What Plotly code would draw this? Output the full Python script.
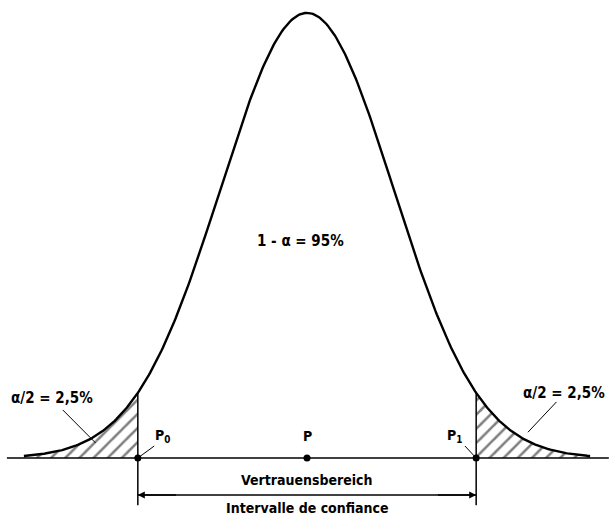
import numpy as np
import plotly.graph_objects as go

# diagram parameters (standard normal, two-sided 95 % interval)
mean = 0.0
sigma = 1.0
alpha = 0.05
z_crit = 1.96
x_limits = [-3.557, 3.557]
tail_ends = [-3.28, 3.28]

point_names = ["P<sub>0</sub>", "P", "P<sub>1</sub>"]
point_pos = [mean - z_crit * sigma, mean, mean + z_crit * sigma]

label_center = "1 - α = 95%"
label_tail = "α/2 = 2,5%"
label_de = "Vertrauensbereich"
label_fr = "Intervalle de confiance"


def density(x):
    # scaled so the peak is 1
    return np.exp(-0.5 * ((x - mean) / sigma) ** 2)


FONT = dict(family="DejaVu Sans Condensed", size=14, color="black", weight="bold")

x_curve = np.linspace(tail_ends[0], tail_ends[1], 400)
x_left = np.linspace(tail_ends[0], point_pos[0], 120)
x_right = np.linspace(point_pos[2], tail_ends[1], 120)

fig = go.Figure()

hatch = dict(shape="/", fgcolor="black", bgcolor="white", size=10, solidity=0.25)
for xs in (x_left, x_right):
    fig.add_trace(go.Scatter(x=xs, y=density(xs), mode="lines", line=dict(width=0),
                             fill="tozeroy", fillpattern=hatch, fillcolor="white",
                             hoverinfo="skip"))

fig.add_trace(go.Scatter(x=x_curve, y=density(x_curve), mode="lines",
                         line=dict(color="black", width=2.4), hoverinfo="skip"))

# baseline
fig.add_shape(type="line", x0=x_limits[0] + 0.08, x1=x_limits[1] - 0.06, y0=0, y1=0,
              line=dict(color="black", width=1.6))

# boundaries of the interval
for p in (point_pos[0], point_pos[2]):
    fig.add_shape(type="line", x0=p, x1=p, y0=-0.106, y1=density(p),
                  line=dict(color="black", width=1.5))

fig.add_trace(go.Scatter(x=point_pos, y=[0, 0, 0], mode="markers",
                         marker=dict(color="black", size=7), hoverinfo="skip"))

# point labels and leaders
fig.add_annotation(x=-1.68, y=0.05, text=point_names[0], showarrow=False, font=FONT)
fig.add_annotation(x=0.0, y=0.05, text=point_names[1], showarrow=False, font=FONT)
fig.add_annotation(x=1.71, y=0.05, text=point_names[2], showarrow=False, font=FONT)
fig.add_shape(type="line", x0=-1.77, y0=0.027, x1=point_pos[0], y1=0,
              line=dict(color="black", width=1))
fig.add_shape(type="line", x0=1.83, y0=0.027, x1=point_pos[2], y1=0,
              line=dict(color="black", width=1))

# tail labels with leaders
fig.add_annotation(x=-2.95, y=0.135, text=label_tail, showarrow=False,
                   font=dict(FONT, size=15))
fig.add_annotation(x=2.98, y=0.146, text=label_tail, showarrow=False,
                   font=dict(FONT, size=15))
fig.add_shape(type="line", x0=-2.83, y0=0.108, x1=-2.45, y1=0.034,
              line=dict(color="black", width=1))
fig.add_shape(type="line", x0=2.89, y0=0.126, x1=2.56, y1=0.058,
              line=dict(color="black", width=1))

fig.add_annotation(x=-0.08, y=0.488, text=label_center, showarrow=False,
                   font=dict(FONT, size=15))

# confidence interval dimension line
fig.add_shape(type="line", x0=point_pos[0], x1=point_pos[2], y0=-0.083, y1=-0.083,
              line=dict(color="black", width=1.4))
for end, start in ((point_pos[0], -1.5), (point_pos[2], 1.5)):
    fig.add_annotation(x=end, y=-0.083, ax=start, ay=-0.083, axref="x", ayref="y",
                       text="", showarrow=True, arrowhead=2, arrowsize=1, arrowwidth=1.4,
                       arrowcolor="black")
fig.add_annotation(x=0.0, y=-0.049, text=label_de, showarrow=False, font=FONT)
fig.add_annotation(x=0.0, y=-0.112, text=label_fr, showarrow=False, font=FONT)

fig.update_xaxes(range=x_limits, visible=False)
fig.update_yaxes(range=[-0.128, 1.029], visible=False)
fig.update_layout(width=614, height=515, margin=dict(l=0, r=0, t=0, b=0),
                  plot_bgcolor="white", paper_bgcolor="white", showlegend=False)

fig.write_html("out.html", config={"displayModeBar": False},
               post_script="document.body.style.margin='0';")
